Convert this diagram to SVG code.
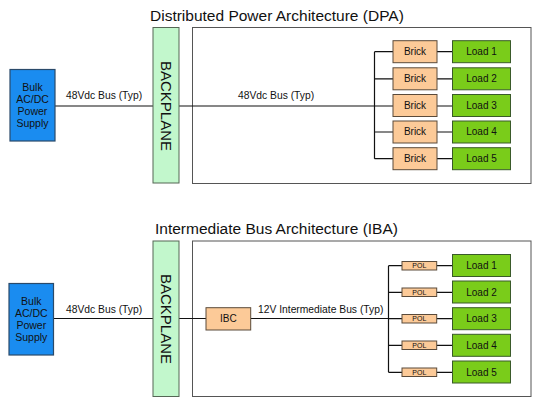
<svg xmlns="http://www.w3.org/2000/svg" width="543" height="409" viewBox="0 0 543 409">
<style>
text{font-family:"Liberation Sans",Arial,sans-serif;fill:#111}
.title{font-size:15.5px}
.lbl{font-size:10.3px}
.small{font-size:10px;text-anchor:middle}
.bk{font-size:10.5px;text-anchor:middle}
.tiny{font-size:7px;text-anchor:middle}
.bulk{fill:#1a8cf0;stroke:#2a4a6a;stroke-width:1.2}
.bp{fill:#c2f7cc;stroke:#556655;stroke-width:1}
.frame{fill:#fff;stroke:#555;stroke-width:1}
.brick{fill:#fcca98;stroke:#5a4a3a;stroke-width:1}
.load{fill:#7acc1a;stroke:#3a5a2a;stroke-width:1}
.bptext{font-size:15px;text-anchor:middle}
.wire{stroke:#111;stroke-width:1.2;fill:none}
</style>

<!-- Top: DPA -->
<text class="title" x="150" y="21">Distributed Power Architecture (DPA)</text>
<g id="dpa-frame"><rect class="frame" x="192.5" y="27.5" width="338.5" height="156"/></g>
<g id="dpa-connectors">
<path class="wire" d="M55 106H153M179 106H374.5M374.5 51.7V158.7M374.5 51.7H393M374.5 78.8H393M374.5 106H393M374.5 132H393M374.5 158.7H393M437 51.7H452M437 78.8H452M437 106H452M437 132H452M437 158.7H452"/>
<text class="lbl" x="66" y="99">48Vdc Bus (Typ)</text>
<text class="lbl" x="238" y="99">48Vdc Bus (Typ)</text>
</g>
<g id="dpa-bulk"><rect class="bulk" x="10" y="69.5" width="45" height="71.5"/>
<text class="bk" x="32.5" y="91">Bulk</text><text class="bk" x="32.5" y="103">AC/DC</text><text class="bk" x="32.5" y="115">Power</text><text class="bk" x="32.5" y="126.5">Supply</text></g>
<g id="dpa-backplane"><rect class="bp" x="153" y="27.5" width="26" height="155.5"/>
<text class="bptext" transform="translate(161,106) rotate(90)">BACKPLANE</text></g>
<g id="dpa-brick1"><rect class="brick" x="393" y="40.7" width="44" height="22"/><text class="small" x="415" y="55">Brick</text></g>
<g id="dpa-brick2"><rect class="brick" x="393" y="67.8" width="44" height="22"/><text class="small" x="415" y="82">Brick</text></g>
<g id="dpa-brick3"><rect class="brick" x="393" y="94.5" width="44" height="22"/><text class="small" x="415" y="109">Brick</text></g>
<g id="dpa-brick4"><rect class="brick" x="393" y="121" width="44" height="22"/><text class="small" x="415" y="135">Brick</text></g>
<g id="dpa-brick5"><rect class="brick" x="393" y="147.7" width="44" height="22"/><text class="small" x="415" y="162">Brick</text></g>
<g id="dpa-load1"><rect class="load" x="452.5" y="40.7" width="58" height="22"/><text class="small" x="481.5" y="55">Load 1</text></g>
<g id="dpa-load2"><rect class="load" x="452.5" y="67.8" width="58" height="22"/><text class="small" x="481.5" y="82">Load 2</text></g>
<g id="dpa-load3"><rect class="load" x="452.5" y="94.5" width="58" height="22"/><text class="small" x="481.5" y="109">Load 3</text></g>
<g id="dpa-load4"><rect class="load" x="452.5" y="121" width="58" height="22"/><text class="small" x="481.5" y="135">Load 4</text></g>
<g id="dpa-load5"><rect class="load" x="452.5" y="147.7" width="58" height="22"/><text class="small" x="481.5" y="162">Load 5</text></g>

<!-- Bottom: IBA -->
<text class="title" x="155" y="234">Intermediate Bus Architecture (IBA)</text>
<g id="iba-frame"><rect class="frame" x="192.5" y="241" width="338.5" height="155.5"/></g>
<g id="iba-connectors">
<path class="wire" d="M53.5 318.5H153M179 318.5H206M250.7 318.5H388.5M388.5 265.7V372.3M388.5 265.7H402M388.5 292.3H402M388.5 318.7H402M388.5 345.3H402M388.5 372.3H402M436.7 265.7H452M436.7 292.3H452M436.7 318.7H452M436.7 345.3H452M436.7 372.3H452"/>
<text class="lbl" x="66" y="313">48Vdc Bus (Typ)</text>
<text class="lbl" x="258" y="313">12V Intermediate Bus (Typ)</text>
</g>
<g id="iba-bulk"><rect class="bulk" x="9" y="283.5" width="44.5" height="71.5"/>
<text class="bk" x="31.3" y="305">Bulk</text><text class="bk" x="31.3" y="317">AC/DC</text><text class="bk" x="31.3" y="329">Power</text><text class="bk" x="31.3" y="340.5">Supply</text></g>
<g id="iba-backplane"><rect class="bp" x="153" y="241" width="26" height="155.5"/>
<text class="bptext" transform="translate(161,319) rotate(90)">BACKPLANE</text></g>
<g id="iba-ibc"><rect class="brick" x="206" y="307.7" width="44.7" height="22.3"/><text class="small" x="228.3" y="322">IBC</text></g>
<g id="iba-pol1"><rect class="brick" x="402" y="261.5" width="34.7" height="8.5"/><text class="tiny" x="419.3" y="268.2">POL</text></g>
<g id="iba-pol2"><rect class="brick" x="402" y="288" width="34.7" height="8.5"/><text class="tiny" x="419.3" y="294.8">POL</text></g>
<g id="iba-pol3"><rect class="brick" x="402" y="314.5" width="34.7" height="8.5"/><text class="tiny" x="419.3" y="321.2">POL</text></g>
<g id="iba-pol4"><rect class="brick" x="402" y="341" width="34.7" height="8.5"/><text class="tiny" x="419.3" y="347.8">POL</text></g>
<g id="iba-pol5"><rect class="brick" x="402" y="368" width="34.7" height="8.5"/><text class="tiny" x="419.3" y="374.8">POL</text></g>
<g id="iba-load1"><rect class="load" x="452.5" y="254.5" width="58" height="22"/><text class="small" x="481.5" y="269">Load 1</text></g>
<g id="iba-load2"><rect class="load" x="452.5" y="281" width="58" height="22"/><text class="small" x="481.5" y="295.5">Load 2</text></g>
<g id="iba-load3"><rect class="load" x="452.5" y="307.7" width="58" height="22"/><text class="small" x="481.5" y="322">Load 3</text></g>
<g id="iba-load4"><rect class="load" x="452.5" y="334.3" width="58" height="22"/><text class="small" x="481.5" y="348.5">Load 4</text></g>
<g id="iba-load5"><rect class="load" x="452.5" y="361" width="58" height="22"/><text class="small" x="481.5" y="375.5">Load 5</text></g>
</svg>
